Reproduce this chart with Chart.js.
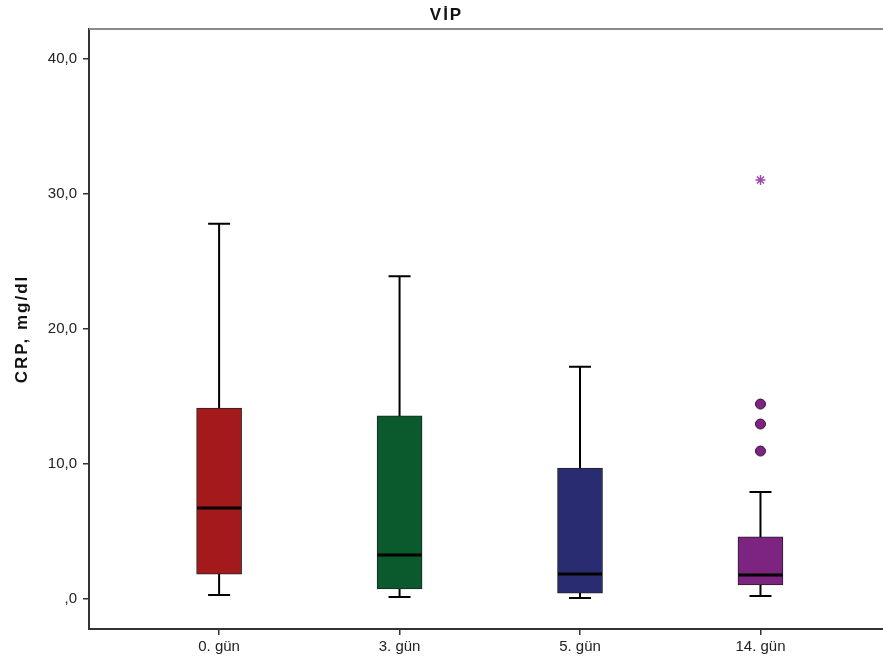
<!DOCTYPE html>
<html lang="tr">
<head>
    <meta charset="UTF-8">
    <title>VİP - CRP</title>
    <script src="https://cdn.jsdelivr.net/npm/chart.js"></script>
    <style>
        body {
            margin: 0;
            background-color: white;
            overflow: hidden;
        }
    </style>
</head>
<body>
    <canvas id="boxChart" width="883" height="666"></canvas>

    <script>
        // Data
        const chartTitle = 'VİP';
        const yTitle = 'CRP, mg/dl';
        const days = ['0. gün', '3. gün', '5. gün', '14. gün'];
        const lowerWhisker = [0.3, 0.15, 0.07, 0.22];
        const q1 = [1.85, 0.74, 0.44, 1.04];
        const median = [6.74, 3.26, 1.85, 1.78];
        const q3 = [14.15, 13.56, 9.7, 4.6];
        const upperWhisker = [27.8, 23.9, 17.2, 7.93];
        const boxColors = ['#a3191c', '#0b5a2d', '#2a2c72', '#7c2480'];
        // outliers (circle) and extremes (star)
        const outliers = [{ x: 3, y: 14.44 }, { x: 3, y: 12.96 }, { x: 3, y: 10.96 }];
        const extremes = [{ x: 3, y: 31.04 }];
        const yTicks = [0, 10, 20, 30, 40];

        const boxData = days.map((d, i) => ({ x: i, y: [q1[i], q3[i]] }));

        // whiskers, medians, frame and the spaced-out SPSS style titles
        const boxExtras = {
            id: 'boxExtras',
            afterDatasetsDraw(chart) {
                const ctx = chart.ctx;
                const x = chart.scales.x;
                const y = chart.scales.y;
                const area = chart.chartArea;
                ctx.save();
                ctx.strokeStyle = '#000';
                for (let i = 0; i < days.length; i++) {
                    const cx = x.getPixelForValue(i);
                    ctx.lineWidth = 2;
                    ctx.beginPath();
                    ctx.moveTo(cx, y.getPixelForValue(q3[i]));
                    ctx.lineTo(cx, y.getPixelForValue(upperWhisker[i]));
                    ctx.moveTo(cx, y.getPixelForValue(q1[i]));
                    ctx.lineTo(cx, y.getPixelForValue(lowerWhisker[i]));
                    ctx.moveTo(cx - 11, y.getPixelForValue(upperWhisker[i]));
                    ctx.lineTo(cx + 11, y.getPixelForValue(upperWhisker[i]));
                    ctx.moveTo(cx - 11, y.getPixelForValue(lowerWhisker[i]));
                    ctx.lineTo(cx + 11, y.getPixelForValue(lowerWhisker[i]));
                    ctx.stroke();
                    ctx.lineWidth = 3;
                    ctx.beginPath();
                    ctx.moveTo(cx - 22, y.getPixelForValue(median[i]));
                    ctx.lineTo(cx + 22, y.getPixelForValue(median[i]));
                    ctx.stroke();
                }
                // top frame line
                ctx.strokeStyle = '#8a8a8a';
                ctx.lineWidth = 2;
                ctx.beginPath();
                ctx.moveTo(area.left, area.top);
                ctx.lineTo(chart.width, area.top);
                ctx.stroke();
                // bottom axis runs off the right edge
                const by = Math.round(area.bottom);
                ctx.strokeStyle = '#333';
                ctx.beginPath();
                ctx.moveTo(area.right - 2, by);
                ctx.lineTo(chart.width, by);
                ctx.stroke();

                ctx.fillStyle = '#111';
                ctx.letterSpacing = '2px';
                ctx.textAlign = 'center';
                ctx.textBaseline = 'middle';
                ctx.font = 'bold 17px "Liberation Sans", Arial, sans-serif';
                ctx.fillText(chartTitle, chart.width / 2 + 5, 15);
                ctx.translate(22, (area.top + area.bottom) / 2);
                ctx.rotate(-Math.PI / 2);
                ctx.fillText(yTitle, 0, 0);
                ctx.restore();
            }
        };

        new Chart(document.getElementById('boxChart'), {
            type: 'bar',
            data: {
                datasets: [
                    {
                        label: 'box',
                        data: boxData,
                        backgroundColor: boxColors,
                        borderColor: '#222',
                        borderWidth: 1,
                        borderSkipped: false,
                        barThickness: 45
                    },
                    {
                        type: 'scatter',
                        label: 'outliers',
                        data: outliers,
                        pointRadius: 5,
                        pointBackgroundColor: '#7c2480',
                        pointBorderColor: '#3a1040',
                        pointBorderWidth: 1
                    },
                    {
                        type: 'scatter',
                        label: 'extremes',
                        data: extremes,
                        pointStyle: 'star',
                        pointRadius: 5,
                        pointBorderColor: '#9b4aa8',
                        pointBorderWidth: 1.5
                    }
                ]
            },
            options: {
                responsive: false,
                animation: false,
                layout: { padding: { left: 0, top: 29, right: 0, bottom: 0 } },
                plugins: {
                    legend: { display: false },
                    tooltip: { enabled: false },
                    title: { display: false }
                },
                scales: {
                    x: {
                        type: 'linear',
                        offset: false,
                        min: -0.721,
                        max: 3.643,
                        afterFit(scale) { scale.height = 37; },
                        afterBuildTicks(scale) {
                            scale.ticks = days.map((d, i) => ({ value: i }));
                        },
                        grid: { offset: false, drawOnChartArea: false, drawTicks: true, tickLength: 6, color: '#333', lineWidth: 1.5 },
                        border: { color: '#333', width: 2 },
                        ticks: {
                            color: '#222',
                            padding: 3,
                            maxRotation: 0,
                            font: { family: 'Liberation Sans, Arial, sans-serif', size: 15 },
                            callback: (v) => days[v]
                        }
                    },
                    y: {
                        min: -2.22,
                        max: 42.22,
                        afterFit(scale) { scale.width = 89; },
                        afterBuildTicks(scale) {
                            scale.ticks = yTicks.map(v => ({ value: v }));
                        },
                        grid: { drawOnChartArea: false, drawTicks: true, tickLength: 6, color: '#333', lineWidth: 1.5 },
                        border: { color: '#333', width: 2 },
                        ticks: {
                            color: '#222',
                            padding: 6,
                            font: { family: 'Liberation Sans, Arial, sans-serif', size: 15 },
                            callback: (v) => v === 0 ? ',0' : v.toFixed(1).replace('.', ',')
                        }
                    }
                }
            },
            plugins: [boxExtras]
        });
    </script>
</body>
</html>
